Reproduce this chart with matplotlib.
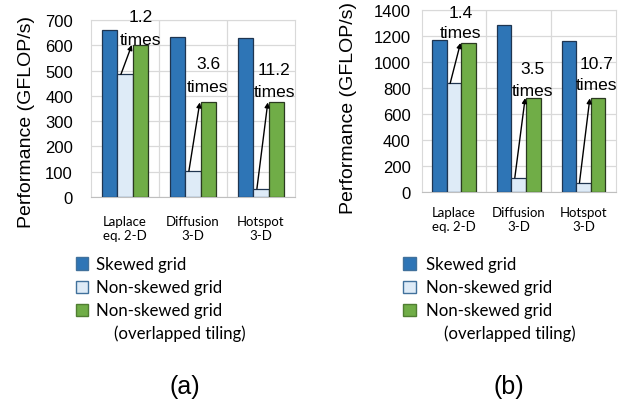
import matplotlib
matplotlib.use("Agg")
import matplotlib.pyplot as plt
from matplotlib.patches import Rectangle

categories = ["Laplace\neq. 2-D", "Diffusion\n3-D", "Hotspot\n3-D"]
series_names = ["Skewed grid", "Non-skewed grid", "Non-skewed grid"]
series_note = "(overlapped tiling)"

a_skewed = [660, 632, 630]
a_nonskewed = [485, 103, 33]
a_overlapped = [601, 374, 374]
a_ratios = ["1.2", "3.6", "11.2"]

b_skewed = [1167, 1285, 1156]
b_nonskewed = [833, 108, 70]
b_overlapped = [1144, 720, 718]
b_ratios = ["1.4", "3.5", "10.7"]

colors = ["#2E75B6", "#DEEBF7", "#70AD47"]
edges = ["#1F3550", "#1F3550", "#2A3A20"]
leg_edges = ["#41719C", "#41719C", "#507E32"]

W, H = 631, 402
fig = plt.figure(figsize=(W / 100, H / 100), dpi=100)
FONT = "Liberation Sans"
CAT_FONT = "Lato"


def fx(px):
    return px / W


def fy(py):
    return 1 - py / H


axes = []


def panel(box, sk, ns, ov, ratios, ymax, ystep, label_pos, tag, tag_x,
          leg_x, tick_pad, cat_pad, ylab_xy):
    l, t, r, b = box
    ax = fig.add_axes([fx(l), fy(b), fx(r) - fx(l), fy(t) - fy(b)])
    n = len(categories)
    x = list(range(n))
    w = 0.225
    for k, (vals, c, e) in enumerate(zip([sk, ns, ov], colors, edges)):
        ax.bar([xi + (k - 1) * w for xi in x], vals, width=w, color=c,
               edgecolor=e, linewidth=0.9, zorder=3)
    ax.set_xlim(-0.5, n - 0.5)
    ax.set_ylim(0, ymax)
    ax.set_yticks(range(0, ymax + 1, ystep))
    ax.yaxis.grid(True, color="#D9D9D9", linewidth=0.9, zorder=0)
    for xv in [0.5, 1.5]:
        ax.axvline(xv, color="#D9D9D9", linewidth=0.9, zorder=0)
    for s in ax.spines.values():
        s.set_color("#D9D9D9")
    ax.spines["bottom"].set_color("#BFBFBF")
    ax.tick_params(axis="both", length=0)
    ax.tick_params(axis="y", labelsize=12, pad=tick_pad)
    ax.tick_params(axis="x", pad=cat_pad)
    for tl in ax.get_yticklabels():
        tl.set_fontfamily(FONT)
    ax.set_xticks(x)
    ax.set_xticklabels(categories, fontsize=9.5, fontfamily=CAT_FONT,
                       linespacing=1.2)
    ax.set_ylabel("Performance (GFLOP/s)", fontsize=14, fontfamily=FONT)
    ax.yaxis.set_label_coords(*ylab_xy)
    for i in range(n):
        ax.annotate("", xy=(i + 0.1, ov[i]), xytext=(i - 0.06, ns[i]),
                    arrowprops=dict(arrowstyle="-|>", color="black", lw=1.0,
                                    mutation_scale=7, shrinkA=0, shrinkB=0),
                    zorder=5, annotation_clip=False)
        dx, y_num, y_times = label_pos[i]
        ax.text(i + dx, y_num, ratios[i], ha="center", va="baseline",
                fontsize=12.5, fontfamily=FONT, zorder=6, clip_on=False)
        ax.text(i + dx, y_times, "times", ha="center", va="baseline",
                fontsize=12.5, fontfamily=FONT, zorder=6, clip_on=False)
    # legend drawn manually
    px0, ptext = leg_x
    baselines = [270, 293.5, 316.5]
    for k, (c, e) in enumerate(zip(colors, leg_edges)):
        cy = baselines[k] - 5.5
        fig.patches.append(Rectangle((fx(px0), fy(cy + 6.3)), 12.6 / W, 12.6 / H,
                                     transform=fig.transFigure, facecolor=c,
                                     edgecolor=e, linewidth=1.0))
        fig.text(fx(ptext), fy(baselines[k]), series_names[k], ha="left",
                 va="baseline", fontsize=10.5, fontfamily=CAT_FONT)
    fig.text(fx(ptext + 18), fy(339.5), series_note, ha="left", va="baseline",
             fontsize=10.5, fontfamily=CAT_FONT)
    fig.text(fx(tag_x), fy(386.7), tag, ha="center", va="center", fontsize=18,
             fontfamily=FONT)
    axes.append(ax)
    return ax


panel((91, 21, 295, 198), a_skewed, a_nonskewed, a_overlapped, a_ratios,
      700, 100,
      [(0.235, 697, 605), (0.22, 509, 418), (0.195, 486, 398)],
      "(a)", 184.7, (75.7, 95.7), 13, 13, (-0.275, 0.43))
panel((421.7, 10.7, 615.7, 192.7), b_skewed, b_nonskewed, b_overlapped, b_ratios,
      1400, 200,
      [(0.105, 1341, 1188), (0.21, 913, 746), (0.208, 952, 790)],
      "(b)", 508.5, (403.3, 426), 8, 10, (-0.333, 0.468))

# scale the legend so that "Non-skewed grid" is ~127 px wide (as in the reference)
fig.canvas.draw()
r = fig.canvas.get_renderer()
s = 10.5
for t in fig.texts:
    if t.get_text() == "Non-skewed grid":
        s = t.get_fontsize() * 127.0 / t.get_window_extent(r).width
        break
for t in fig.texts:
    if t.get_text() in series_names or t.get_text() == series_note:
        t.set_fontsize(s)

fig.savefig("out.png", dpi=100)
